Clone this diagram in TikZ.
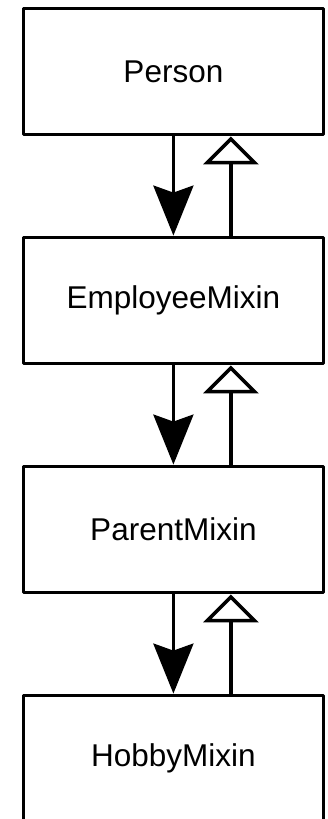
\documentclass[tikz,border=0pt]{standalone}
\usepackage{fontspec}
\setmainfont{Liberation Sans}
\usetikzlibrary{arrows.meta}
\begin{document}
\begin{tikzpicture}[x=1pt,y=1pt,
  box/.style={draw, line width=3.8pt, minimum width=300pt, minimum height=126pt,
    inner sep=0pt, font=\fontsize{31.5}{36}\selectfont, line join=round},
  inh/.style={line width=3.8pt, -{Stealth[length=50pt,width=40pt,inset=7pt]}},
  gen/.style={line width=3.6pt, -{Triangle[open,length=28pt,width=55pt]}}]
\useasboundingbox (0,0) rectangle (328,-819);
\node[box] (p) at (173.4,-71.5) {Person};
\node[box] (e) at (173.4,-300.5) {EmployeeMixin};
\node[box] (m) at (173.4,-529.5) {ParentMixin};
\node[box] (h) at (173.4,-758.5) {HobbyMixin};
\draw[inh] (p.south) -- (e.north);
\draw[gen] ([xshift=57.5pt]e.north) -- ([xshift=57.5pt]p.south);
\draw[inh] (e.south) -- (m.north);
\draw[gen] ([xshift=57.5pt]m.north) -- ([xshift=57.5pt]e.south);
\draw[inh] (m.south) -- (h.north);
\draw[gen] ([xshift=57.5pt]h.north) -- ([xshift=57.5pt]m.south);
\end{tikzpicture}
\end{document}
